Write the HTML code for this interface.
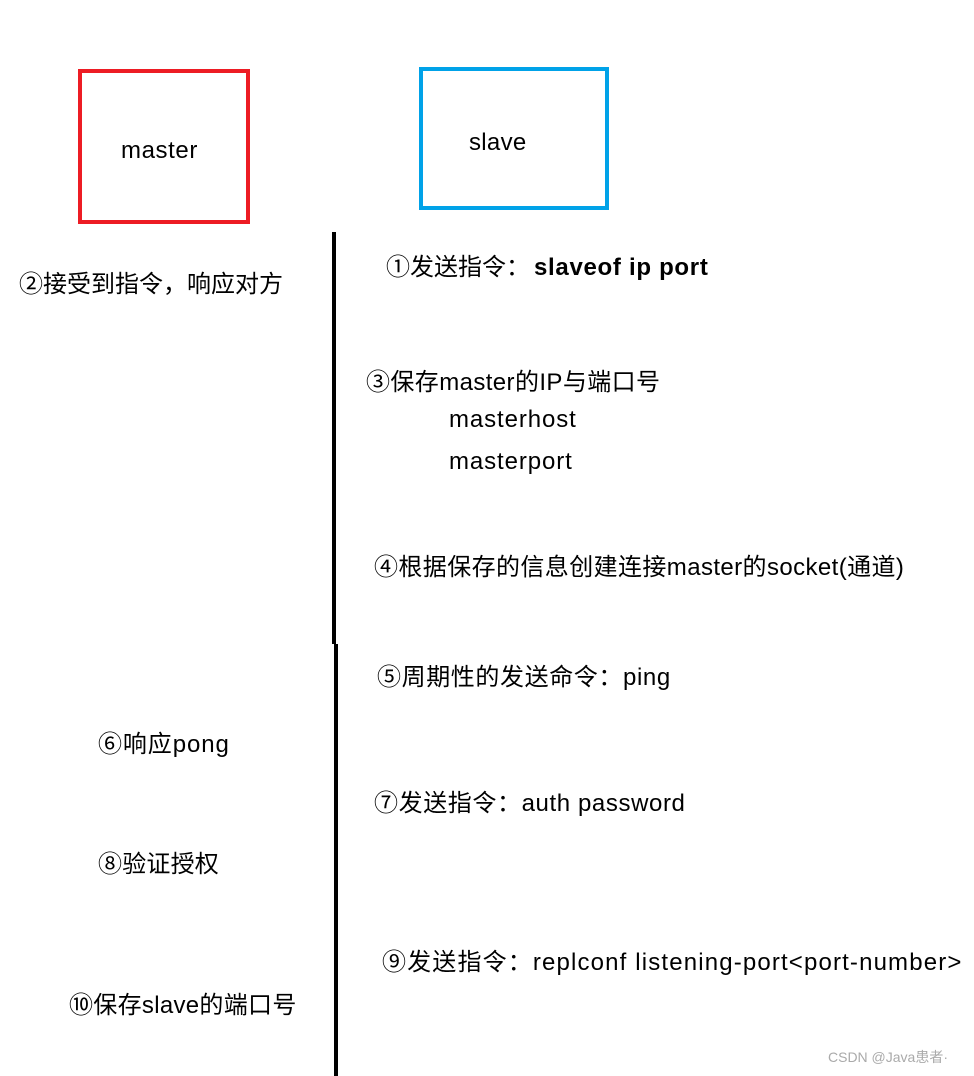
<!DOCTYPE html>
<html><head><meta charset="utf-8"><style>
body{margin:0;width:974px;height:1076px;background:#fff;position:relative;overflow:hidden;font-family:"Liberation Sans","Noto Sans CJK SC",sans-serif;color:#000}
.t{position:absolute;font-size:24px;white-space:nowrap;line-height:1;letter-spacing:0.6px}
.box{position:absolute;box-sizing:border-box}
</style></head><body>
<div class="box" style="left:78px;top:69px;width:172px;height:155px;border:4px solid #ed1c24"></div>
<div class="box" style="left:419px;top:67px;width:190px;height:143px;border:4px solid #00a2e8"></div>
<div class="t" style="left:121px;top:139px">master</div>
<div class="t" style="left:469px;top:131px;letter-spacing:0.3px">slave</div>
<div style="position:absolute;left:332px;top:232px;width:4px;height:412px;background:#000"></div>
<div style="position:absolute;left:334px;top:644px;width:4px;height:432px;background:#000"></div>
<div class="t" style="left:19px;top:273px;letter-spacing:0">②接受到指令，响应对方</div>
<div class="t" style="left:386px;top:256px;letter-spacing:0">①发送指令：<b style="margin-left:4px;letter-spacing:0.7px">slaveof ip port</b></div>
<div class="t" style="left:366px;top:371px;letter-spacing:0.4px">③保存master的IP与端口号</div>
<div class="t" style="left:449px;top:408px;letter-spacing:0.9px">masterhost</div>
<div class="t" style="left:449px;top:450px;letter-spacing:0.9px">masterport</div>
<div class="t" style="left:374px;top:556px;letter-spacing:0.4px">④根据保存的信息创建连接master的socket(通道)</div>
<div class="t" style="left:377px;top:666px">⑤周期性的发送命令：ping</div>
<div class="t" style="left:98px;top:733px;letter-spacing:0.9px">⑥响应pong</div>
<div class="t" style="left:374px;top:792px">⑦发送指令：auth password</div>
<div class="t" style="left:98px;top:853px;letter-spacing:0.2px">⑧验证授权</div>
<div class="t" style="left:382px;top:951px;letter-spacing:1.15px">⑨发送指令：replconf listening-port&lt;port-number&gt;</div>
<div class="t" style="left:69px;top:994px;letter-spacing:0.3px">⑩保存slave的端口号</div>
<div class="t" style="left:828px;top:1050px;font-size:14px;color:#aaa;letter-spacing:0">CSDN @Java患者·</div>
</body></html>
